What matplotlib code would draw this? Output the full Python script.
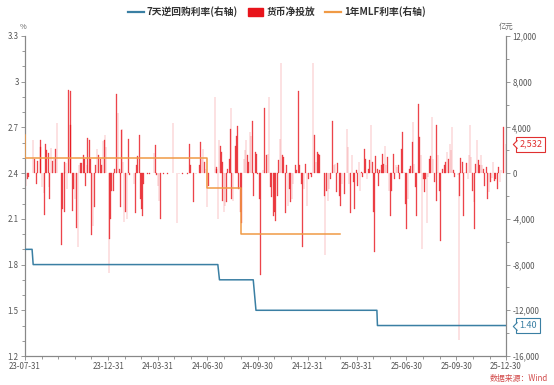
import matplotlib
matplotlib.use('Agg')
import matplotlib.pyplot as plt
import matplotlib.dates as mdates
import numpy as np
import pandas as pd
from matplotlib.ticker import MultipleLocator, FuncFormatter, FixedLocator
from matplotlib.transforms import blended_transform_factory, offset_copy
from matplotlib.lines import Line2D
from matplotlib.patches import Patch
from matplotlib.path import Path

plt.rcParams['font.family'] = ['Noto Sans CJK SC', 'DejaVu Sans']

# ---------------- data ----------------
bar_dates = [
    '2023-07-31', '2023-08-02', '2023-08-04', '2023-08-07', '2023-08-15', '2023-08-18', '2023-08-21', '2023-08-23', '2023-08-28', '2023-08-29', '2023-08-31',
    '2023-09-04', '2023-09-05', '2023-09-07', '2023-09-09', '2023-09-12', '2023-09-13', '2023-09-14', '2023-09-17', '2023-09-19', '2023-09-22', '2023-09-25', '2023-09-28',
    '2023-10-06', '2023-10-08', '2023-10-11', '2023-10-12', '2023-10-14', '2023-10-16', '2023-10-19', '2023-10-22', '2023-10-23', '2023-10-26', '2023-10-28', '2023-10-31',
    '2023-11-03', '2023-11-05', '2023-11-07', '2023-11-10', '2023-11-12', '2023-11-15', '2023-11-17', '2023-11-19', '2023-11-22', '2023-11-23', '2023-11-26', '2023-11-28', '2023-11-30',
    '2023-12-03', '2023-12-05', '2023-12-08', '2023-12-10', '2023-12-13', '2023-12-16', '2023-12-18', '2023-12-21', '2023-12-24', '2023-12-25', '2023-12-27',
    '2024-01-01', '2024-01-02', '2024-01-04', '2024-01-06', '2024-01-09', '2024-01-11', '2024-01-15', '2024-01-18', '2024-01-20', '2024-01-22', '2024-01-24', '2024-01-25', '2024-01-27', '2024-01-29',
    '2024-02-01', '2024-02-03', '2024-02-06', '2024-02-08', '2024-02-16', '2024-02-19', '2024-02-21', '2024-02-23', '2024-02-26', '2024-02-28',
    '2024-03-01', '2024-03-03', '2024-03-05', '2024-03-12', '2024-03-16', '2024-03-24', '2024-03-26', '2024-03-28', '2024-03-31',
    '2024-04-02', '2024-04-05', '2024-04-10', '2024-04-17', '2024-04-28',
    '2024-05-05', '2024-05-09', '2024-05-15', '2024-05-24', '2024-05-28', '2024-05-30',
    '2024-06-04', '2024-06-09', '2024-06-15', '2024-06-17', '2024-06-20', '2024-06-22', '2024-06-25', '2024-06-27', '2024-06-29',
    '2024-07-02', '2024-07-14', '2024-07-16', '2024-07-17', '2024-07-19', '2024-07-21', '2024-07-24', '2024-07-26', '2024-07-27', '2024-07-28', '2024-07-30',
    '2024-08-01', '2024-08-04', '2024-08-06', '2024-08-09', '2024-08-11', '2024-08-12', '2024-08-13', '2024-08-16', '2024-08-20', '2024-08-22', '2024-08-24', '2024-08-26', '2024-08-30', '2024-08-31',
    '2024-09-05', '2024-09-07', '2024-09-09', '2024-09-11', '2024-09-13', '2024-09-16', '2024-09-18', '2024-09-21', '2024-09-23', '2024-09-26', '2024-09-28', '2024-09-30',
    '2024-10-03', '2024-10-05', '2024-10-10', '2024-10-13', '2024-10-16', '2024-10-19', '2024-10-21', '2024-10-24', '2024-10-26', '2024-10-29', '2024-10-31',
    '2024-11-02', '2024-11-05', '2024-11-07', '2024-11-10', '2024-11-12', '2024-11-15', '2024-11-17', '2024-11-20', '2024-11-22', '2024-11-25', '2024-11-27', '2024-11-29',
    '2024-12-02', '2024-12-04', '2024-12-08', '2024-12-11', '2024-12-14', '2024-12-16', '2024-12-19', '2024-12-21', '2024-12-24', '2024-12-27', '2024-12-30',
    '2025-01-01', '2025-01-05', '2025-01-07', '2025-01-10', '2025-01-13', '2025-01-15', '2025-01-18', '2025-01-20', '2025-01-22', '2025-01-31',
    '2025-02-01', '2025-02-04', '2025-02-06', '2025-02-08', '2025-02-11', '2025-02-14', '2025-02-17', '2025-02-19', '2025-02-22', '2025-02-24', '2025-02-27',
    '2025-03-01', '2025-03-04', '2025-03-08', '2025-03-13', '2025-03-15', '2025-03-17', '2025-03-20', '2025-03-22', '2025-03-25', '2025-03-27', '2025-03-30',
    '2025-04-01', '2025-04-04', '2025-04-06', '2025-04-09', '2025-04-11', '2025-04-14', '2025-04-16', '2025-04-19', '2025-04-21', '2025-04-24', '2025-04-26', '2025-04-29',
    '2025-05-01', '2025-05-03', '2025-05-05', '2025-05-08', '2025-05-10', '2025-05-12', '2025-05-15', '2025-05-17', '2025-05-19', '2025-05-22', '2025-05-24', '2025-05-27', '2025-05-29',
    '2025-06-01', '2025-06-03', '2025-06-06', '2025-06-08', '2025-06-11', '2025-06-13', '2025-06-16', '2025-06-18', '2025-06-21', '2025-06-23', '2025-06-26', '2025-06-28', '2025-06-30',
    '2025-07-03', '2025-07-06', '2025-07-08', '2025-07-11', '2025-07-12', '2025-07-14', '2025-07-17', '2025-07-19', '2025-07-22', '2025-07-24', '2025-07-27', '2025-07-29', '2025-07-31',
    '2025-08-02', '2025-08-04', '2025-08-07', '2025-08-09', '2025-08-12', '2025-08-14', '2025-08-16', '2025-08-18', '2025-08-21', '2025-08-24', '2025-08-25', '2025-08-27', '2025-08-30',
    '2025-09-01', '2025-09-05', '2025-09-08', '2025-09-10', '2025-09-13', '2025-09-15', '2025-09-18', '2025-09-20', '2025-09-22', '2025-09-25', '2025-09-27',
    '2025-10-03', '2025-10-05', '2025-10-06', '2025-10-08', '2025-10-11', '2025-10-13', '2025-10-16', '2025-10-18', '2025-10-21', '2025-10-23', '2025-10-25', '2025-10-27', '2025-10-29',
    '2025-11-01', '2025-11-02', '2025-11-04', '2025-11-07', '2025-11-09', '2025-11-11', '2025-11-14', '2025-11-16', '2025-11-19', '2025-11-21', '2025-11-24', '2025-11-26', '2025-11-29',
    '2025-12-01', '2025-12-04', '2025-12-06', '2025-12-09', '2025-12-11', '2025-12-14', '2025-12-16', '2025-12-19', '2025-12-21', '2025-12-26', '2025-12-30',
]
net_injection = [
    -600, -1100, -500, -300, 2900, 1260, -940, 1100, 2940, 2300, -1200,
    -1700, -3700, 2550, 2000, 1800, -1200, -2260, 2200, 1100, 1250, 2150, 4350,
    -6260, -3150, -3440, 1000, 880, -1380, 7300, 7150, 4200, -3300, -1380, -2260,
    -4760, -6440, 680, 880, 880, 1620, 1250, -1100, 680, 3090, 2940, 1250, -5440,
    -4600, -3000, 740, 2150, 1560, 1260, 680, 2800, 2940, 3380, 2290,
    -8700, -5800, -4000, -1530, -1530, 380, 6900, 5240, 380, -3000, 3760, 3850, 970, -4260,
    -3440, -4000, 3030, -200, -940, -3500, 680, 1500, 3380, -2260,
    -3150, -3740, -940, -100, -100, 1760, 2440, -200, -1100,
    -2400, -3970, -100, -100, 4350,
    -4380, -100, -100, -100, 2530, 680,
    -2560, -100, 680, 2740, 1260, 2090, 970, 380, -3000,
    -1100, 6700, 380, 530, -3970, 2940, 2380, 1850, 970, -2400, -3440,
    -2850, -2560, 380, 1260, 3820, 5680, -2260, -2400, 2380, 3260, 4150, -1380, -3440, -4320,
    1260, 2000, 2880, 1560, 970, 3620, 3260, 4560, -1970, 1850, 1700, -100,
    -2260, -8880, 300, 5740, 1560, 1700, 6620, -1250, -2120, -3740, -3440,
    -4180, -1970, 1120, 3030, 9650, 1560, 1400, -3500, 680, -2850, -1380, -2560,
    -2260, -940, 680, 240, 7150, 680, -940, -6440, -1380, 820, -2850,
    -500, -100, -350, 9650, 3320, 970, 1850, 1700, 1620, -1970,
    -7200, -1530, -2400, -1380, -500, 4560, 740, 820, -1680, 900, -1970,
    -2850, -940, -1820, 3820, 2290, -940, -3500, 1560, -800, -3150, 240,
    -1100, 970, -1530, 90, -350, 2150, 1250, -500, 380, 1120, 4200, 970,
    -3440, -6880, 1500, 380, -1100, 240, 680, 1700, 820, 2380, 680, 1400, -1530,
    -3740, -1530, 1700, -500, 680, 530, 740, -500, 2150, 3620, 90, -2700, -4910,
    -2260, 380, 620, 2740, 4440, 820, -1230, -3740, 6030, 3180, 1560, -6680, -500,
    -1680, -500, -4320, -350, 1260, 1500, 4940, 1260, -800, -2410, 4200, 1560, -1530,
    -5940, 380, 680, 970, 1850, 1250, 2590, 2000, 4060, 240, -350,
    -200, -14560, -1970, 1320, 970, -3740, 100, 900, -500, 1560, 4200, 1400, -1530,
    -2560, -4910, 820, 2880, 1120, 740, 1560, 680, 380, -1100, 530, -2260, -1680,
    -800, -440, 970, -650, -500, -1380, 530, -740, 240, 4060, 2532,
]

repo_dates = ['2023-07-31', '2023-08-13', '2023-08-15', '2024-07-19', '2024-07-22',
              '2024-09-22', '2024-09-27', '2025-05-07', '2025-05-08', '2025-12-30']
repo_rate = [1.9, 1.9, 1.8, 1.8, 1.7, 1.7, 1.5, 1.5, 1.4, 1.4]

mlf_dates = ['2023-07-31', '2023-08-31', '2023-09-30', '2023-10-31', '2023-11-30', '2023-12-31',
             '2024-01-31', '2024-02-29', '2024-03-31', '2024-04-30', '2024-05-31', '2024-06-30',
             '2024-07-31', '2024-08-31', '2024-09-30', '2024-10-31', '2024-11-30', '2024-12-31',
             '2025-01-31', '2025-02-28']
mlf_rate = [2.65, 2.5, 2.5, 2.5, 2.5, 2.5, 2.5, 2.5, 2.5, 2.5, 2.5, 2.5,
            2.3, 2.3, 2.0, 2.0, 2.0, 2.0, 2.0, 2.0]

x_tick_dates = ['2023-07-31', '2023-12-31', '2024-03-31', '2024-06-30', '2024-09-30',
                '2024-12-31', '2025-03-31', '2025-06-30', '2025-09-30', '2025-12-30']

legend_labels = ['7天逆回购利率(右轴)', '货币净投放', '1年MLF利率(右轴)']

# ---------------- styles ----------------
RED = '#e8141b'
BLUE = '#3a7fa3'
ORANGE = '#f09a45'
AXC = '#888888'
TXT = '#555555'

fig = plt.figure(figsize=(5.54, 3.85), dpi=100)
ax = fig.add_axes([25 / 554, 1 - 356 / 385, 481 / 554, 320 / 385])
axl = ax.twinx()

bx = pd.to_datetime(bar_dates)
ax.bar(bx, net_injection, width=1.2, color=RED, edgecolor=RED, linewidth=0.25, alpha=0.72)
ax.set_ylim(-16000, 12000)
ax.yaxis.tick_right()
ax.yaxis.set_label_position('right')
ax.yaxis.set_major_locator(MultipleLocator(4000))
ax.yaxis.set_minor_locator(MultipleLocator(2000))
ax.yaxis.set_major_formatter(FuncFormatter(lambda v, p: f'{int(v):,}'))

axl.plot(pd.to_datetime(repo_dates), repo_rate, color=BLUE, lw=1.1, zorder=3)
axl.plot(pd.to_datetime(mlf_dates), mlf_rate, color=ORANGE, lw=1.1, drawstyle='steps-pre', zorder=3)
axl.set_ylim(1.2, 3.3)
axl.yaxis.tick_left()
axl.yaxis.set_major_locator(FixedLocator(np.arange(1.2, 3.31, 0.3)))
axl.yaxis.set_minor_locator(MultipleLocator(0.1))
axl.yaxis.set_major_formatter(FuncFormatter(lambda v, p: f'{round(v, 1):g}'))

ax.set_xlim(pd.Timestamp('2023-07-31'), pd.Timestamp('2025-12-30'))
ax.xaxis.set_major_locator(FixedLocator(mdates.date2num(pd.to_datetime(x_tick_dates))))
ax.xaxis.set_major_formatter(mdates.DateFormatter('%y-%m-%d'))
ax.xaxis.set_minor_locator(FixedLocator(
    mdates.date2num(pd.date_range('2023-08-31', '2025-11-30', freq='ME'))))

for a in (ax, axl):
    a.spines['top'].set_visible(False)
    for s in ('left', 'right', 'bottom'):
        a.spines[s].set_color(AXC)
        a.spines[s].set_linewidth(0.8)
    a.tick_params(which='both', direction='out', color=AXC, width=0.6,
                  labelsize=5.7, labelcolor=TXT, pad=1.5)
    a.tick_params(which='major', length=3)
    a.tick_params(which='minor', length=2.5)

# axis units
fig.text(23 / 554, 1 - 27 / 385, '%', ha='center', va='center', fontsize=5.3, color='#666666')
fig.text(506 / 554, 1 - 27 / 385, '亿元', ha='center', va='center', fontsize=5.3, color='#666666')

# legend
handles = [Line2D([0], [0], color=BLUE, lw=1.6),
           Patch(facecolor=RED, edgecolor=RED),
           Line2D([0], [0], color=ORANGE, lw=1.6)]
fig.legend(handles, legend_labels, loc='center', bbox_to_anchor=(0.5, 1 - 12 / 385), ncol=3,
           frameon=False, prop={'size': 7, 'weight': 'bold'}, handlelength=1.6,
           handleheight=0.9, handletextpad=0.35, columnspacing=1.0, labelcolor='#333333')

# source
fig.text(548 / 554, 1 - 378 / 385, '数据来源：Wind', ha='right', va='center', fontsize=5.7, color='#d24a4a')

# end value labels
pointer = Path([(0, 1), (-1, 0), (0, -1)])


def end_label(axis, value, text, color):
    fs = 6.5
    off = 9.5
    pad = 0.35
    axis.annotate(text, xy=(1, value), xycoords=('axes fraction', 'data'), xytext=(off, 0),
                  textcoords='offset points', ha='left', va='center', fontsize=fs, color=color,
                  bbox=dict(boxstyle=f'square,pad={pad}', fc='white', ec=color, lw=0.8),
                  annotation_clip=False, zorder=10)
    tr = offset_copy(blended_transform_factory(axis.transAxes, axis.transData), fig=fig,
                     x=off - pad * fs + 0.4, y=0, units='points')
    axis.plot([1], [value], marker=pointer, ms=6, mfc='white', mec=color, mew=0.8,
              transform=tr, clip_on=False, zorder=11, linestyle='none')


end_label(ax, net_injection[-1], f'{net_injection[-1]:,}', '#e03030')
end_label(axl, repo_rate[-1], f'{repo_rate[-1]:.2f}', BLUE)

fig.savefig('out.png', dpi=100)
